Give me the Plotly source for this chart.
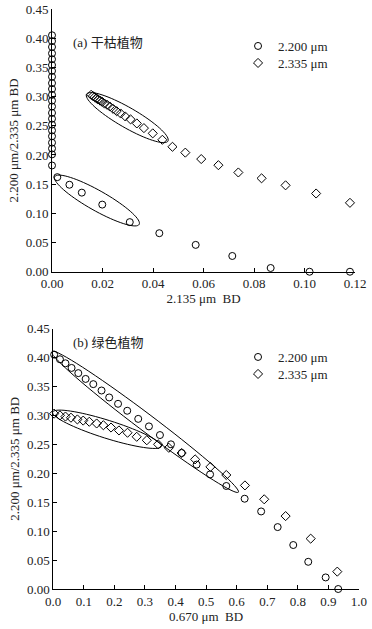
import numpy as np
import plotly.graph_objects as go

# (a) dry vegetation: 2.135 um BD vs 2.200 / 2.335 um BD
DRY_X_2200 = [0.0] * 22 + [0.0021, 0.0069, 0.0118, 0.0199, 0.0308, 0.0425,
                           0.0569, 0.0714, 0.0866, 0.1020, 0.1180]
DRY_Y_2200 = [0.405, 0.395, 0.385, 0.374, 0.364, 0.354, 0.344, 0.334, 0.323,
              0.313, 0.303, 0.293, 0.283, 0.272, 0.262, 0.252, 0.242, 0.232,
              0.221, 0.211, 0.201, 0.182,
              0.162, 0.149, 0.1355, 0.115, 0.085, 0.066, 0.046, 0.027, 0.0064,
              0.0, 0.0]
DRY_X_2335 = [0.0155, 0.0162, 0.0169, 0.0176, 0.0183, 0.0191, 0.0199, 0.0208,
              0.0218, 0.0229, 0.0242, 0.0256, 0.0272, 0.0290, 0.0311, 0.0336,
              0.0364, 0.0399, 0.0437, 0.0477, 0.0528, 0.0591, 0.0659, 0.0738,
              0.0830, 0.0925, 0.1046, 0.1180]
DRY_Y_2335 = [0.303, 0.301, 0.299, 0.297, 0.295, 0.293, 0.291, 0.288, 0.286,
              0.283, 0.279, 0.275, 0.271, 0.266, 0.261, 0.254, 0.246, 0.237,
              0.226, 0.214, 0.204, 0.193, 0.1825, 0.170, 0.160, 0.148, 0.134,
              0.118]

# (b) green vegetation: 0.670 um BD vs 2.200 / 2.335 um BD
GREEN_X_2200 = [0.003, 0.022, 0.040, 0.060, 0.082, 0.106, 0.131, 0.158, 0.183,
                0.212, 0.242, 0.278, 0.313, 0.349, 0.385, 0.420, 0.469, 0.513,
                0.566, 0.626, 0.680, 0.734, 0.785, 0.834, 0.891, 0.932]
GREEN_Y_2200 = [0.405, 0.397, 0.390, 0.382, 0.373, 0.363, 0.354, 0.343, 0.331,
                0.320, 0.308, 0.294, 0.281, 0.266, 0.250, 0.235, 0.215, 0.198,
                0.178, 0.156, 0.134, 0.107, 0.076, 0.047, 0.020, 0.000]
GREEN_X_2335 = [0.003, 0.022, 0.040, 0.058, 0.079, 0.098, 0.118, 0.142, 0.164,
                0.189, 0.215, 0.243, 0.273, 0.306, 0.343, 0.378, 0.420, 0.464,
                0.514, 0.566, 0.627, 0.690, 0.760, 0.842, 0.929]
GREEN_Y_2335 = [0.303, 0.300, 0.298, 0.296, 0.293, 0.291, 0.289, 0.286, 0.283,
                0.279, 0.274, 0.270, 0.263, 0.257, 0.250, 0.244, 0.235, 0.224,
                0.211, 0.197, 0.179, 0.155, 0.126, 0.087, 0.030]

SERIES_NAMES = ['2.200 μm', '2.335 μm']
PANEL_LABELS = ['(a) 干枯植物', '(b) 绿色植物']
X_TITLES = ['2.135 μm  BD', '0.670 μm  BD']
Y_TITLE = '2.200 μm/2.335 μm BD'

W, H = 372, 629
M = dict(l=52, r=13, t=9, b=40)
TOP_X_DOM, TOP_Y_DOM = [0.0, 0.987], [0.547, 1.0]
BOT_X_DOM, BOT_Y_DOM = [0.004, 1.0], [0.0, 0.449]
FONT = 'Liberation Serif, Noto Sans CJK SC, serif'
INK = '#222'
FS = 13


def px_scale(dom, span, total):
    return (dom[1] - dom[0]) * total / span


def ellipse_path(cx, cy, a, b, angle, sx, sy):
    """Rotated ellipse (pixel semi-axes, clockwise angle) as a path in data units."""
    t = np.linspace(0, 2 * np.pi, 73)
    th = np.radians(angle)
    dx = a * np.cos(t) * np.cos(th) - b * np.sin(t) * np.sin(th)
    dy = a * np.cos(t) * np.sin(th) + b * np.sin(t) * np.cos(th)
    xs = cx + dx / sx
    ys = cy - dy / sy
    pts = [f'{x:.5f},{y:.5f}' for x, y in zip(xs, ys)]
    return 'M ' + ' L '.join(pts) + ' Z'


def paper_y(px):
    return 1 - (px - M['t']) / ph


pw = W - M['l'] - M['r']
ph = H - M['t'] - M['b']
sx_top = px_scale(TOP_X_DOM, 0.12, pw)
sy_top = px_scale(TOP_Y_DOM, 0.45, ph)
sx_bot = px_scale(BOT_X_DOM, 1.0, pw)
sy_bot = px_scale(BOT_Y_DOM, 0.45, ph)

fig = go.Figure()
marker_c = dict(symbol='circle-open', size=7, color='black', line=dict(width=1))
marker_d = dict(symbol='diamond-open', size=7, color='black', line=dict(width=1))

fig.add_trace(go.Scatter(x=DRY_X_2200, y=DRY_Y_2200, mode='markers', name=SERIES_NAMES[0],
                         marker=marker_c, cliponaxis=False, xaxis='x', yaxis='y', legend='legend'))
fig.add_trace(go.Scatter(x=DRY_X_2335, y=DRY_Y_2335, mode='markers', name=SERIES_NAMES[1],
                         marker=marker_d, cliponaxis=False, xaxis='x', yaxis='y', legend='legend2'))
fig.add_trace(go.Scatter(x=GREEN_X_2200, y=GREEN_Y_2200, mode='markers', name=SERIES_NAMES[0],
                         marker=marker_c, cliponaxis=False, xaxis='x2', yaxis='y2', legend='legend3'))
fig.add_trace(go.Scatter(x=GREEN_X_2335, y=GREEN_Y_2335, mode='markers', name=SERIES_NAMES[1],
                         marker=marker_d, cliponaxis=False, xaxis='x2', yaxis='y2', legend='legend4'))

shapes = [
    (0.0298, 0.264, 47, 10, 30, 'x', 'y', sx_top, sy_top),
    (0.0178, 0.122, 48.5, 10, 29.5, 'x', 'y', sx_top, sy_top),
    (0.300, 0.289, 117, 8.5, 37, 'x2', 'y2', sx_bot, sy_bot),
    (0.176, 0.276, 57, 9, 17.5, 'x2', 'y2', sx_bot, sy_bot),
]
for cx, cy, a, b, ang, xr, yr, sx, sy in shapes:
    fig.add_shape(type='path', path=ellipse_path(cx, cy, a, b, ang, sx, sy),
                  xref=xr, yref=yr, line=dict(color='black', width=1))

axis_common = dict(showline=True, linecolor='black', linewidth=1, showgrid=False,
                   zeroline=False, ticks='inside', ticklen=4, tickcolor='black',
                   automargin=False, tickfont=dict(family=FONT, size=FS, color=INK))
ytitle = dict(text=Y_TITLE, font=dict(family=FONT, size=FS, color=INK), standoff=4)


def leg(top_px):
    # one legend per entry so each row sits where the reference puts it
    return dict(x=0.606, y=paper_y(top_px), xanchor='left', yanchor='top',
                bgcolor='rgba(0,0,0,0)', font=dict(family=FONT, size=FS, color=INK),
                itemwidth=30)


fig.update_layout(
    width=W, height=H, margin=M,
    paper_bgcolor='white', plot_bgcolor='white', showlegend=True,
    xaxis=dict(domain=TOP_X_DOM, anchor='y', range=[0, 0.12], dtick=0.02, tickformat='.2f',
               title=dict(text=X_TITLES[0], font=dict(family=FONT, size=FS, color=INK), standoff=0),
               **axis_common),
    yaxis=dict(domain=TOP_Y_DOM, anchor='x', range=[0, 0.45], dtick=0.05, tickformat='.2f',
               title=ytitle, **axis_common),
    xaxis2=dict(domain=BOT_X_DOM, anchor='y2', range=[0, 1.0], dtick=0.1, tickformat='.1f',
                title=dict(text=X_TITLES[1], font=dict(family=FONT, size=FS, color=INK), standoff=4),
                **axis_common),
    yaxis2=dict(domain=BOT_Y_DOM, anchor='x2', range=[0, 0.45], dtick=0.05, tickformat='.2f',
                title=ytitle, **axis_common),
    legend=leg(31), legend2=leg(48), legend3=leg(342), legend4=leg(359),
    annotations=[
        dict(text=PANEL_LABELS[0], x=0.062, y=paper_y(42), xref='paper', yref='paper',
             xanchor='left', yanchor='middle', showarrow=False,
             font=dict(family=FONT, size=FS, color=INK)),
        dict(text=PANEL_LABELS[1], x=0.062, y=paper_y(342), xref='paper', yref='paper',
             xanchor='left', yanchor='middle', showarrow=False,
             font=dict(family=FONT, size=FS, color=INK)),
    ],
)

# the page's default body margin would shift the figure by 8px
fig.write_html('out.html', config={'displayModeBar': False},
               post_script="document.body.style.margin = '0';")
